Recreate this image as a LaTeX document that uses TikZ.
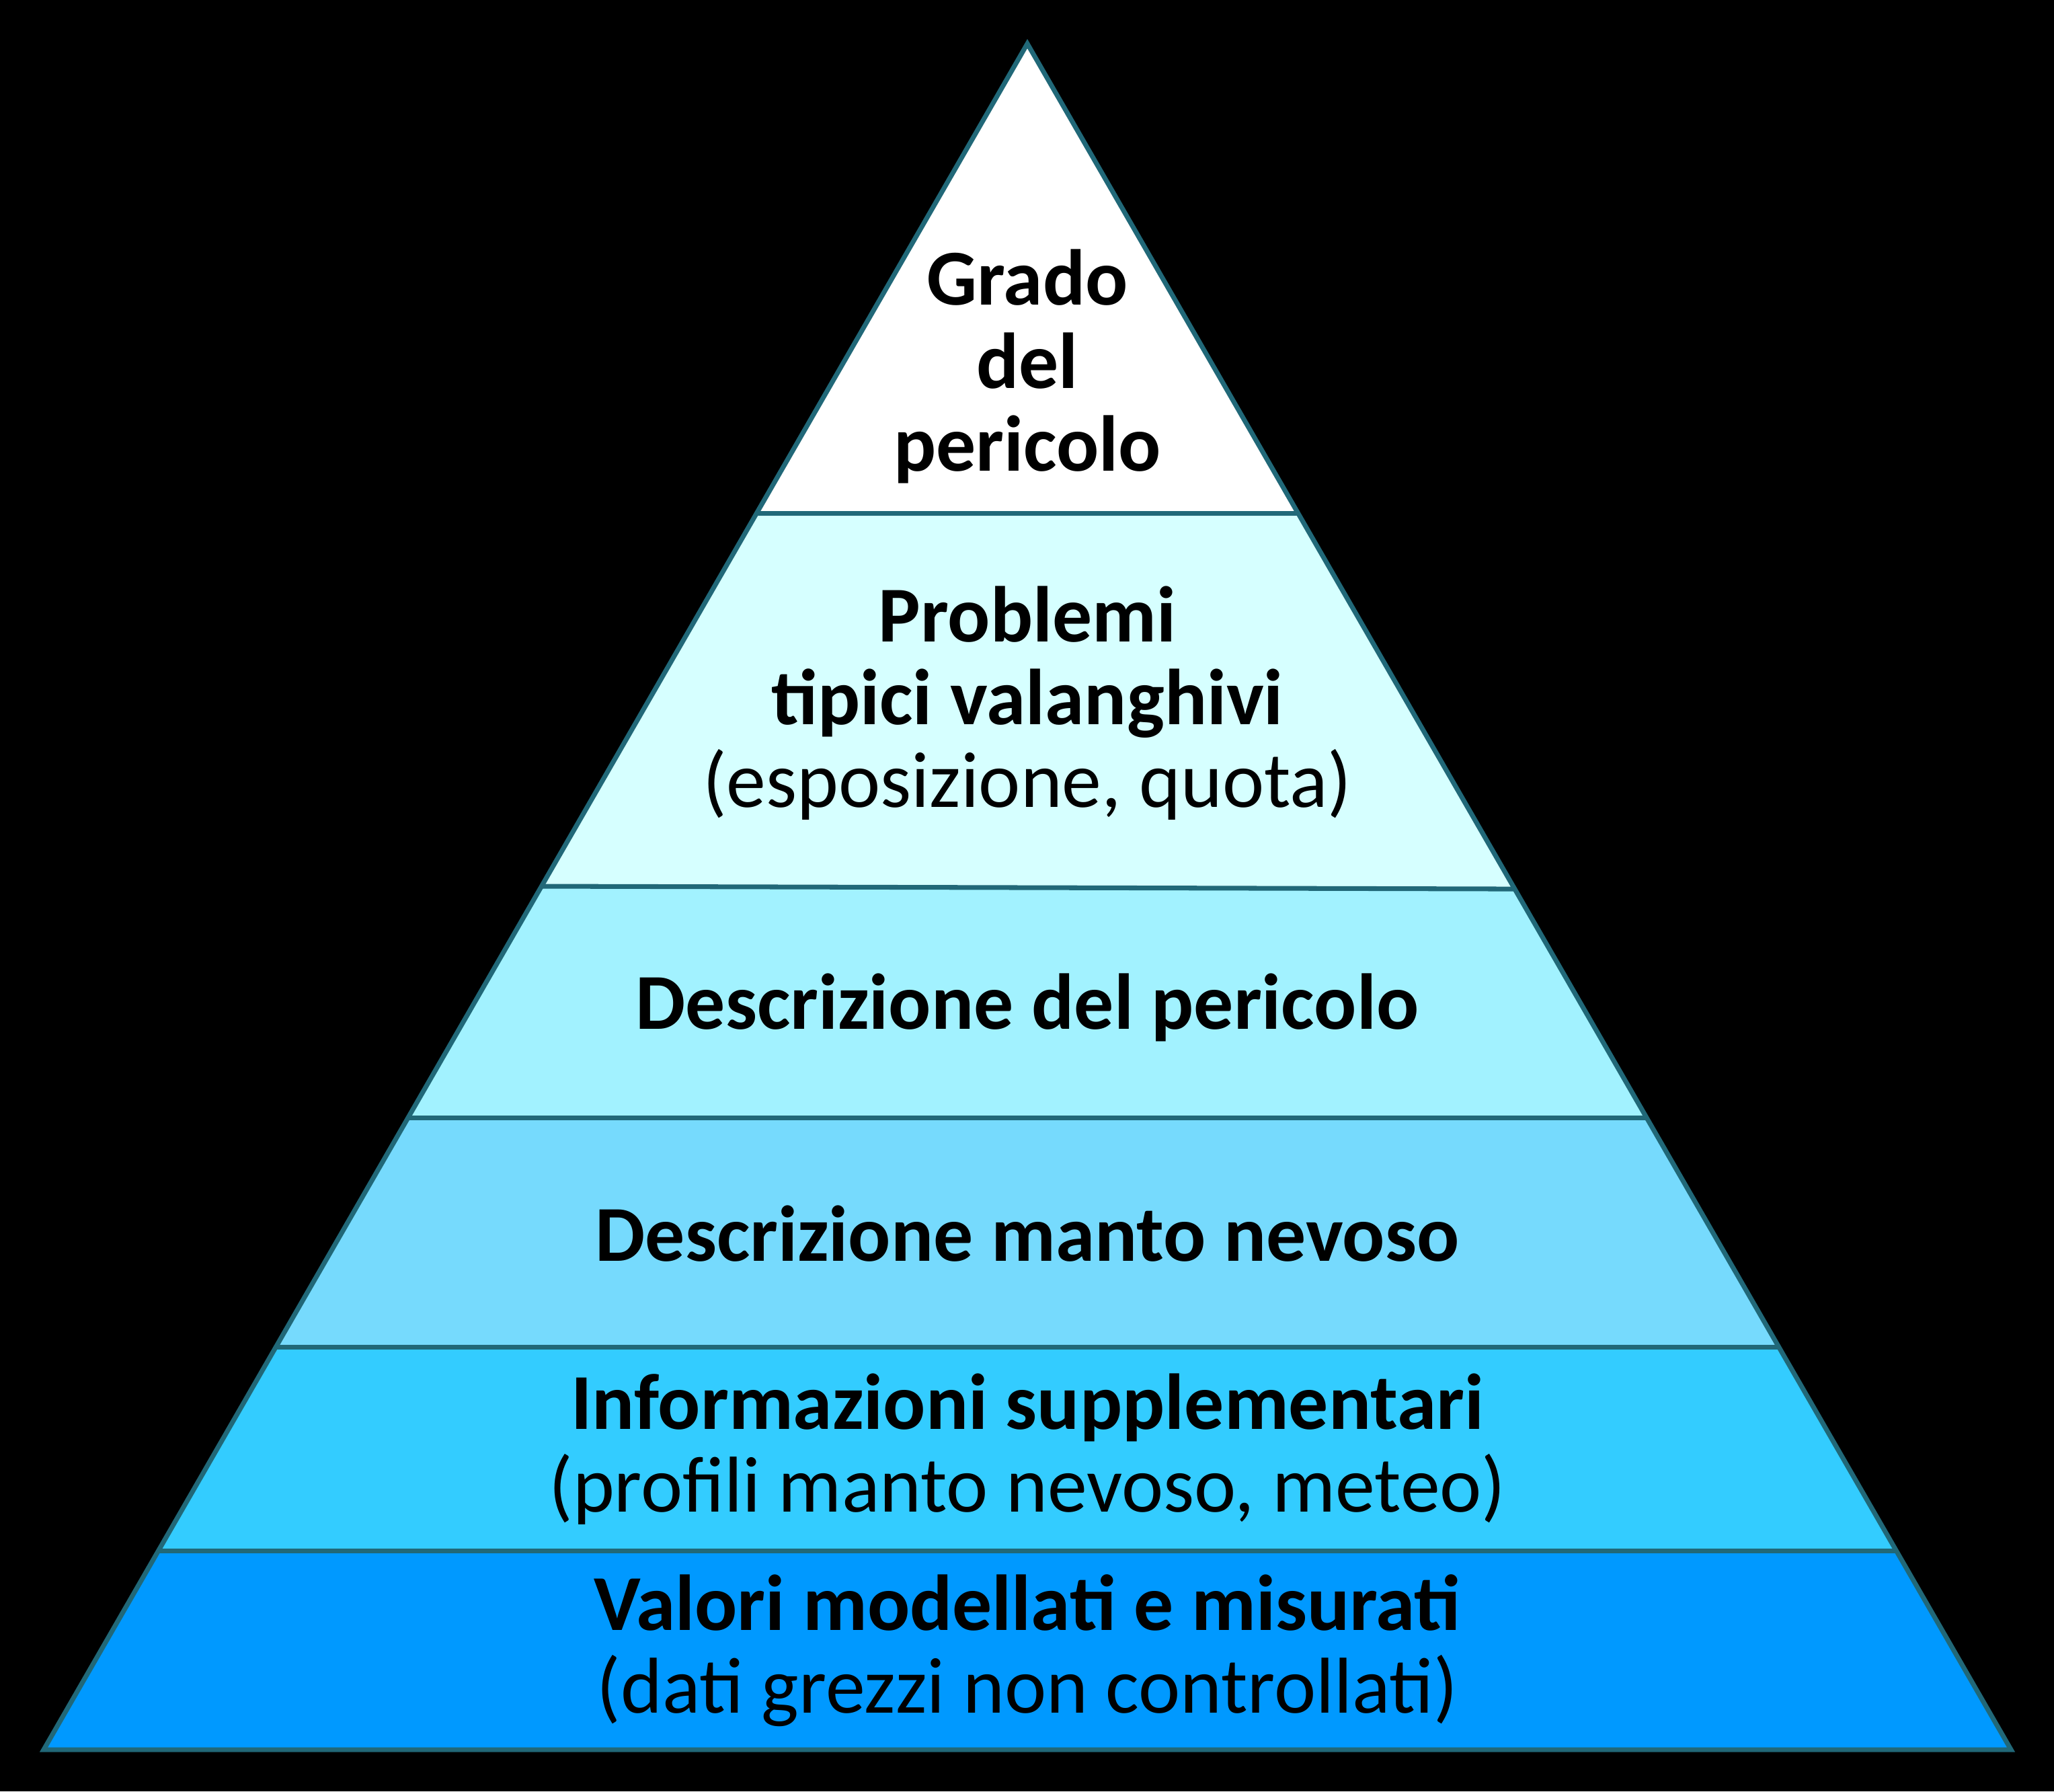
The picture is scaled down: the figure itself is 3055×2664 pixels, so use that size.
\documentclass[tikz,border=0pt]{standalone}
\usepackage{fontspec}
\setmainfont{Carlito}
\usetikzlibrary{calc}

\definecolor{edge}{RGB}{33,104,120}
\definecolor{layerA}{RGB}{255,255,255}
\definecolor{layerB}{RGB}{214,255,255}
\definecolor{layerC}{RGB}{162,242,255}
\definecolor{layerD}{RGB}{118,218,253}
\definecolor{layerE}{RGB}{51,204,255}
\definecolor{layerF}{RGB}{0,153,255}

\begin{document}
\begin{tikzpicture}[x=0.01cm,y=-0.01cm,
        edgeline/.style={draw=edge,line width=2pt,line join=miter},
        label/.style={align=center,inner sep=0pt,font=\fontsize{33.5}{35}\selectfont}]
    \fill[black] (0,0) rectangle (3055,2664);
    % corners of the pyramid
    \coordinate (apex) at (1528,65);
    \coordinate (bl) at (65,2602);
    \coordinate (br) at (2991,2602);
    % layer boundaries
    \coordinate (l1) at ($(apex)!0.2755!(bl)$);
    \coordinate (r1) at ($(apex)!0.2755!(br)$);
    \coordinate (l2) at ($(apex)!0.4939!(bl)$);
    \coordinate (r2) at ($(apex)!0.4955!(br)$);
    \coordinate (l3) at ($(apex)!0.6295!(bl)$);
    \coordinate (r3) at ($(apex)!0.6295!(br)$);
    \coordinate (l4) at ($(apex)!0.7639!(bl)$);
    \coordinate (r4) at ($(apex)!0.7639!(br)$);
    \coordinate (l5) at ($(apex)!0.8837!(bl)$);
    \coordinate (r5) at ($(apex)!0.8837!(br)$);
    % layers
    \fill[layerA] (apex) -- (l1) -- (r1) -- cycle;
    \fill[layerB] (l1) -- (l2) -- (r2) -- (r1) -- cycle;
    \fill[layerC] (l2) -- (l3) -- (r3) -- (r2) -- cycle;
    \fill[layerD] (l3) -- (l4) -- (r4) -- (r3) -- cycle;
    \fill[layerE] (l4) -- (l5) -- (r5) -- (r4) -- cycle;
    \fill[layerF] (l5) -- (bl) -- (br) -- (r5) -- cycle;
    \draw[edgeline] (l1) -- (r1);
    \draw[edgeline] (l2) -- (r2);
    \draw[edgeline] (l3) -- (r3);
    \draw[edgeline] (l4) -- (r4);
    \draw[edgeline] (l5) -- (r5);
    \draw[edgeline] (apex) -- (bl) -- (br) -- cycle;
    % texts
    \node[label] (grado) at (1528,545) {\textbf{Grado}\\\textbf{del}\\\textbf{pericolo}};
    \node[label] (problemi) at (1528,1046) {\textbf{Problemi}\\\textbf{tipici valanghivi}\\(esposizione, quota)};
    \node[label] (descper) at (1528,1498) {\textbf{Descrizione del pericolo}};
    \node[label] (descmanto) at (1528,1835) {\textbf{Descrizione manto nevoso}};
    \node[label] (info) at (1528,2155) {\textbf{Informazioni supplementari}\\(profili manto nevoso, meteo)};
    \node[label] (valori) at (1528,2455) {\textbf{Valori modellati e misurati}\\(dati grezzi non controllati)};
\end{tikzpicture}
\end{document}
